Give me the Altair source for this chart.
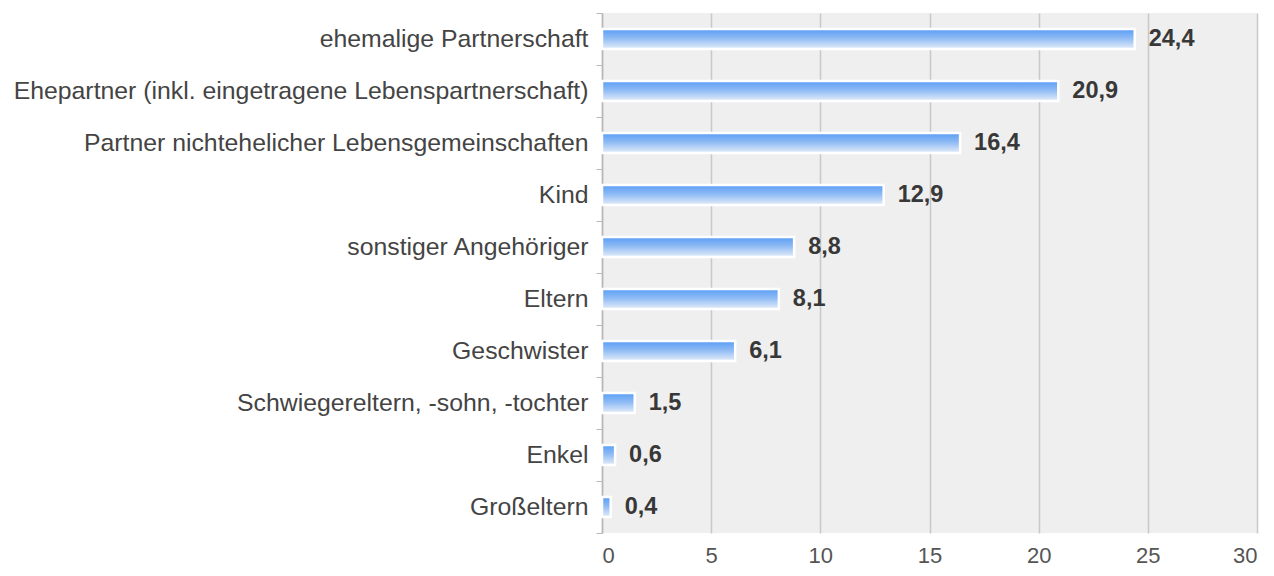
import altair as alt
import pandas as pd

categories = [
    "ehemalige Partnerschaft",
    "Ehepartner (inkl. eingetragene Lebenspartnerschaft)",
    "Partner nichtehelicher Lebensgemeinschaften",
    "Kind",
    "sonstiger Angehöriger",
    "Eltern",
    "Geschwister",
    "Schwiegereltern, -sohn, -tochter",
    "Enkel",
    "Großeltern",
]
values = [24.4, 20.9, 16.4, 12.9, 8.8, 8.1, 6.1, 1.5, 0.6, 0.4]
value_labels = ["24,4", "20,9", "16,4", "12,9", "8,8", "8,1", "6,1", "1,5", "0,6", "0,4"]
x_ticks = [0, 5, 10, 15, 20, 25, 30]

df = pd.DataFrame({"cat": categories, "val": values, "lab": value_labels})

FONT = "Liberation Sans"

y_enc = alt.Y(
    "cat:N",
    sort=categories,
    title=None,
    scale=alt.Scale(paddingInner=0, paddingOuter=0),
    axis=alt.Axis(
        labelFont=FONT,
        labelFontSize=24.8,
        labelColor="#444444",
        labelLimit=0,
        labelPadding=8,
        tickBand="extent",
        tickSize=6,
        tickColor="#b8b8b8",
        domainColor="#b8b8b8",
        domainWidth=1.5,
        grid=False,
    ),
)

x_enc = alt.X(
    "val:Q",
    title=None,
    scale=alt.Scale(domain=[0, 30], nice=False),
    axis=alt.Axis(
        values=x_ticks,
        labelFont=FONT,
        labelFontSize=22,
        labelColor="#555555",
        labelPadding=12,
        ticks=False,
        domain=False,
        grid=True,
        gridColor="#c8c8c8",
        gridWidth=1.5,
    ),
)

grad = alt.Gradient(
    gradient="linear",
    stops=[
        alt.GradientStop(color="#5a9ef5", offset=0),
        alt.GradientStop(color="#8dbaf4", offset=0.45),
        alt.GradientStop(color="#e4edf9", offset=1),
    ],
    x1=0, x2=0, y1=0, y2=1,
)

bars = alt.Chart(df).mark_bar(
    fill=grad,
    stroke="white",
    strokeWidth=2.5,
    height={"band": 0.38},
).encode(x=x_enc, y=y_enc)

text = alt.Chart(df).mark_text(
    align="left",
    baseline="middle",
    dx=14,
    font=FONT,
    fontSize=23.5,
    fontWeight="bold",
    color="#383838",
).encode(x="val:Q", y=alt.Y("cat:N", sort=categories), text="lab:N")

chart = (
    alt.layer(bars, text)
    .properties(
        width=655,
        height=520,
        autosize=alt.AutoSizeParams(type="none"),
        padding={"left": 594, "top": 5, "right": 5, "bottom": 34},
    )
    .configure_view(fill="#efefef", stroke=None)
)

chart.save("out.html", embed_options={"renderer": "svg", "actions": False})
